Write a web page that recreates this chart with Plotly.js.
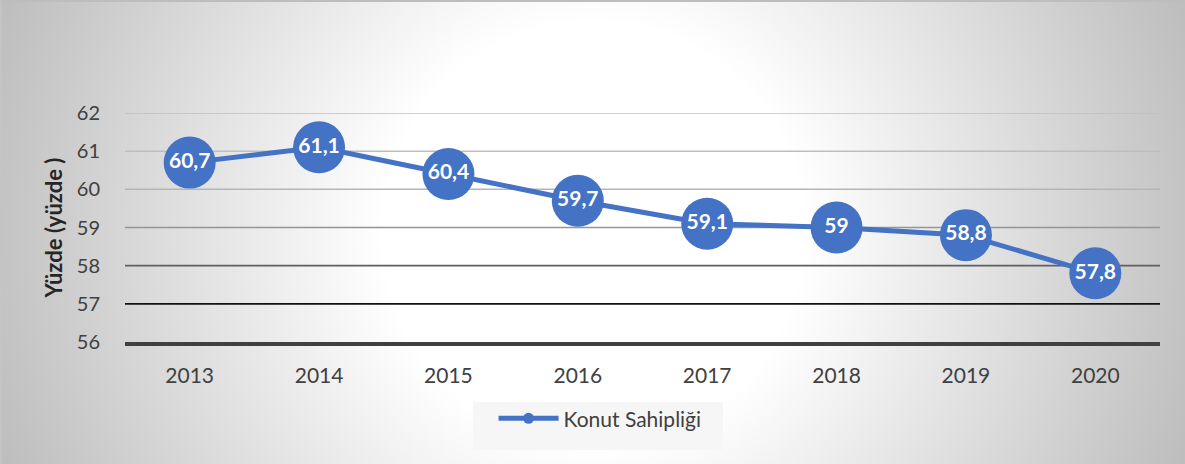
<!DOCTYPE html>
<html>
<head>
<meta charset="utf-8">
<script src="https://cdn.plot.ly/plotly-3.0.1.min.js"></script>
<style>
  html, body { margin: 0; padding: 0; }
  #wrap {
    position: relative; width: 1185px; height: 464px; box-sizing: border-box;
    border-top: 2px solid #bdbdbd; border-left: 2px solid #c4c4c4;
    background: radial-gradient(circle at 50% 50%, #ffffff 0%, #ffffff 33%, #bdbdbd 100%);
  }
  #chart { position: absolute; left: -2px; top: -2px; width: 1185px; height: 464px; }
</style>
</head>
<body>
<div id="wrap"><div id="chart"></div></div>
<script>
const years = ['2013', '2014', '2015', '2016', '2017', '2018', '2019', '2020'];
const ownership = [60.7, 61.1, 60.4, 59.7, 59.1, 59.0, 58.8, 57.8];
const yTicks = [56, 57, 58, 59, 60, 61, 62];
const seriesName = 'Konut Sahipliği';
const yTitle = 'Yüzde (yüzde )';

// gridline styles (by tick, bottom to top); the 56 line is drawn as the axis line
const gridColors = ['rgba(0,0,0,0)', '#111111', '#5f5f5f', '#959595', '#b5b5b5', '#bdbdbd', '#bfbfbf'];
const gridWidths = [0, 1.8, 1.6, 1.5, 1.5, 1.5, 1.5];

const labels = ownership.map(v => String(v).replace('.', ','));
const blue = '#4472c4';
const FONT = 'Lato, "Open Sans", sans-serif';

const shapes = yTicks.map((t, i) => ({
  type: 'line', xref: 'paper', yref: 'y', x0: 0, x1: 1, y0: t, y1: t,
  line: { color: gridColors[i], width: gridWidths[i] }, layer: 'below'
}));
shapes.push({
  type: 'rect', xref: 'paper', yref: 'paper',
  x0: (473 - 125) / 1035, x1: (723 - 125) / 1035,
  y0: -(450 - 342) / 229, y1: -(402 - 342) / 229,
  fillcolor: '#f6f6f6', line: { width: 0 }, layer: 'below'
});

const traces = [
  {
    x: years, y: ownership, type: 'scatter', mode: 'lines+markers+text',
    text: labels, textposition: 'middle center',
    textfont: { family: FONT, size: 21, color: '#ffffff', weight: 'bold' },
    line: { color: blue, width: 5 },
    marker: { color: blue, size: 52 },
    showlegend: false, hoverinfo: 'x+y', cliponaxis: false
  },
  {
    x: [null], y: [null], type: 'scatter', mode: 'lines+markers', name: seriesName,
    line: { color: blue, width: 5 }, marker: { color: blue, size: 11 },
    showlegend: true
  }
];

const layout = {
  width: 1185, height: 464,
  paper_bgcolor: 'rgba(0,0,0,0)', plot_bgcolor: 'rgba(0,0,0,0)',
  margin: { l: 125, r: 25, t: 113, b: 122 },
  font: { family: FONT, color: '#404040', size: 18 },
  xaxis: {
    type: 'category', range: [-0.5, 7.5], showgrid: false, zeroline: false,
    showline: true, linecolor: '#404040', linewidth: 3.5,
    ticks: '', tickfont: { size: 21, color: '#404040' }, ticklabelstandoff: 12
  },
  yaxis: {
    range: [56, 62], tickvals: yTicks, showgrid: false, zeroline: false,
    showline: false, ticks: '', tickfont: { size: 20, color: '#404040' }, ticklabelstandoff: 24,
    title: { text: yTitle, font: { size: 22, color: '#262626', weight: 'bold' }, standoff: 8 }
  },
  shapes: shapes,
  showlegend: true,
  legend: {
    orientation: 'h', x: 0.459, xanchor: 'center', y: -0.335, yanchor: 'middle',
    bgcolor: 'rgba(0,0,0,0)', font: { size: 21, color: '#404040' }, itemwidth: 60
  }
};

Plotly.newPlot('chart', traces, layout, { displayModeBar: false, staticPlot: true });
</script>
</body>
</html>
